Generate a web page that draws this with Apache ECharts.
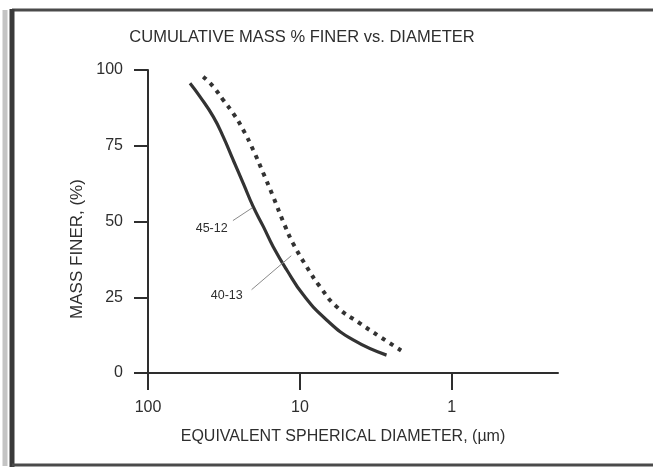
<!DOCTYPE html>
<html>
<head>
<meta charset="utf-8">
<script src="https://cdn.jsdelivr.net/npm/echarts@6/dist/echarts.min.js"></script>
<style>
  html, body { margin: 0; padding: 0; background: #fff; }
  #chart { width: 653px; height: 468px; }
</style>
</head>
<body>
<div id="chart"></div>
<script>
// ---- data ----
const solidDiameter = [52.9, 45.5, 37.2, 32.0, 27.5, 23.6, 20.3, 17.4, 15.0, 12.2, 9.5, 6.67, 4.46, 2.69];
const solidFiner    = [95.6, 91.2, 84.6, 78.0, 70.3, 62.6, 54.9, 48.3, 41.7, 34.0, 25.8, 17.5, 10.9, 5.9];
const dottedDiameter = [43.3, 37.2, 32.0, 27.5, 23.6, 20.3, 17.4, 15.0, 12.6, 11.1, 9.04, 7.38, 5.74, 4.03, 2.98, 2.09];
const dottedFiner    = [97.8, 94.5, 90.1, 85.7, 80.2, 73.6, 65.9, 58.2, 48.8, 42.8, 35.1, 28.5, 21.9, 16.4, 12.0, 7.0];
const xTickValues = [100, 10, 1];
const yTickValues = [0, 25, 50, 75, 100];
const solidName = '45-12';
const dottedName = '40-13';
const solidLabelAt = [38.1, 47.7];
const solidLeader = [[27.6, 50.3], [20.6, 54.5]];
const dottedLabelAt = [30.3, 25.5];
const dottedLeader = [[20.8, 27.5], [11.4, 38.7]];

const FONT = '"Liberation Sans", Arial, sans-serif';
const INK = '#2e2e2e';

function pairs(xs, ys) { return xs.map((x, i) => [x, ys[i]]); }

const chart = echarts.init(document.getElementById('chart'), null, { renderer: 'canvas' });

chart.setOption({
  backgroundColor: '#ffffff',
  animation: false,
  grid: { left: 148, top: 70, right: 95, bottom: 95, containLabel: false },
  xAxis: {
    type: 'log',
    logBase: 10,
    min: 0.2,
    max: 100,
    inverse: true,
    axisLine: { show: true, lineStyle: { color: INK, width: 2 } },
    axisTick: { show: true, length: 17, inside: false, lineStyle: { color: INK, width: 2 }, customValues: xTickValues },
    axisLabel: { show: true, margin: 27, color: INK, fontSize: 16, fontFamily: FONT, customValues: xTickValues,
                 formatter: v => String(v) },
    splitLine: { show: false },
    minorTick: { show: false }
  },
  yAxis: {
    type: 'value',
    min: yTickValues[0],
    max: yTickValues[yTickValues.length - 1],
    interval: 25,
    axisLine: { show: true, lineStyle: { color: INK, width: 2 } },
    axisTick: { show: true, length: 14, inside: false, lineStyle: { color: INK, width: 2 } },
    axisLabel: { show: true, margin: 25, color: INK, fontSize: 16, fontFamily: FONT },
    splitLine: { show: false }
  },
  series: [
    {
      name: solidName,
      type: 'line',
      smooth: 0.5,
      showSymbol: false,
      symbol: 'none',
      data: pairs(solidDiameter, solidFiner),
      lineStyle: { color: '#333', width: 3.2 },
      markLine: {
        silent: true, symbol: 'none', animation: false,
        lineStyle: { color: '#8a8a8a', width: 1, type: 'solid' },
        label: { show: false },
        data: [[{ coord: solidLeader[0] }, { coord: solidLeader[1] }]]
      },
      markPoint: {
        silent: true, symbol: 'circle', symbolSize: 0,
        label: { show: true, position: 'inside', formatter: solidName, color: INK, fontSize: 12.5, fontFamily: FONT },
        data: [{ coord: solidLabelAt }]
      }
    },
    {
      name: dottedName,
      type: 'line',
      smooth: 0.5,
      showSymbol: false,
      symbol: 'none',
      data: pairs(dottedDiameter, dottedFiner),
      lineStyle: { color: '#333', width: 4, type: [4, 5.5], cap: 'butt' },
      markLine: {
        silent: true, symbol: 'none', animation: false,
        lineStyle: { color: '#8a8a8a', width: 1, type: 'solid' },
        label: { show: false },
        data: [[{ coord: dottedLeader[0] }, { coord: dottedLeader[1] }]]
      },
      markPoint: {
        silent: true, symbol: 'circle', symbolSize: 0,
        label: { show: true, position: 'inside', formatter: dottedName, color: INK, fontSize: 12.5, fontFamily: FONT },
        data: [{ coord: dottedLabelAt }]
      }
    }
  ],
  graphic: [
    { type: 'text', x: 302, y: 37, style: { text: 'CUMULATIVE MASS % FINER vs. DIAMETER', fill: INK, font: '16.5px ' + FONT, align: 'center', verticalAlign: 'middle' } },
    { type: 'text', x: 343, y: 437, style: { text: 'EQUIVALENT SPHERICAL DIAMETER, (µm)', fill: INK, font: '16px ' + FONT, align: 'center', verticalAlign: 'middle' } },
    { type: 'text', x: 77, y: 249, rotation: Math.PI / 2, style: { text: 'MASS FINER, (%)', fill: INK, font: '17px ' + FONT, align: 'center', verticalAlign: 'middle' } },
    { type: 'line', shape: { x1: 5, y1: 10, x2: 5, y2: 466 }, style: { stroke: '#c4c4c4', lineWidth: 5 } },
    { type: 'line', shape: { x1: 12, y1: 10, x2: 653, y2: 10 }, style: { stroke: '#4a4a4a', lineWidth: 3 } },
    { type: 'line', shape: { x1: 12, y1: 9, x2: 12, y2: 467 }, style: { stroke: '#3a3a3a', lineWidth: 5 } },
    { type: 'line', shape: { x1: 12, y1: 465, x2: 653, y2: 465 }, style: { stroke: '#4a4a4a', lineWidth: 3 } }
  ]
});
</script>
</body>
</html>
